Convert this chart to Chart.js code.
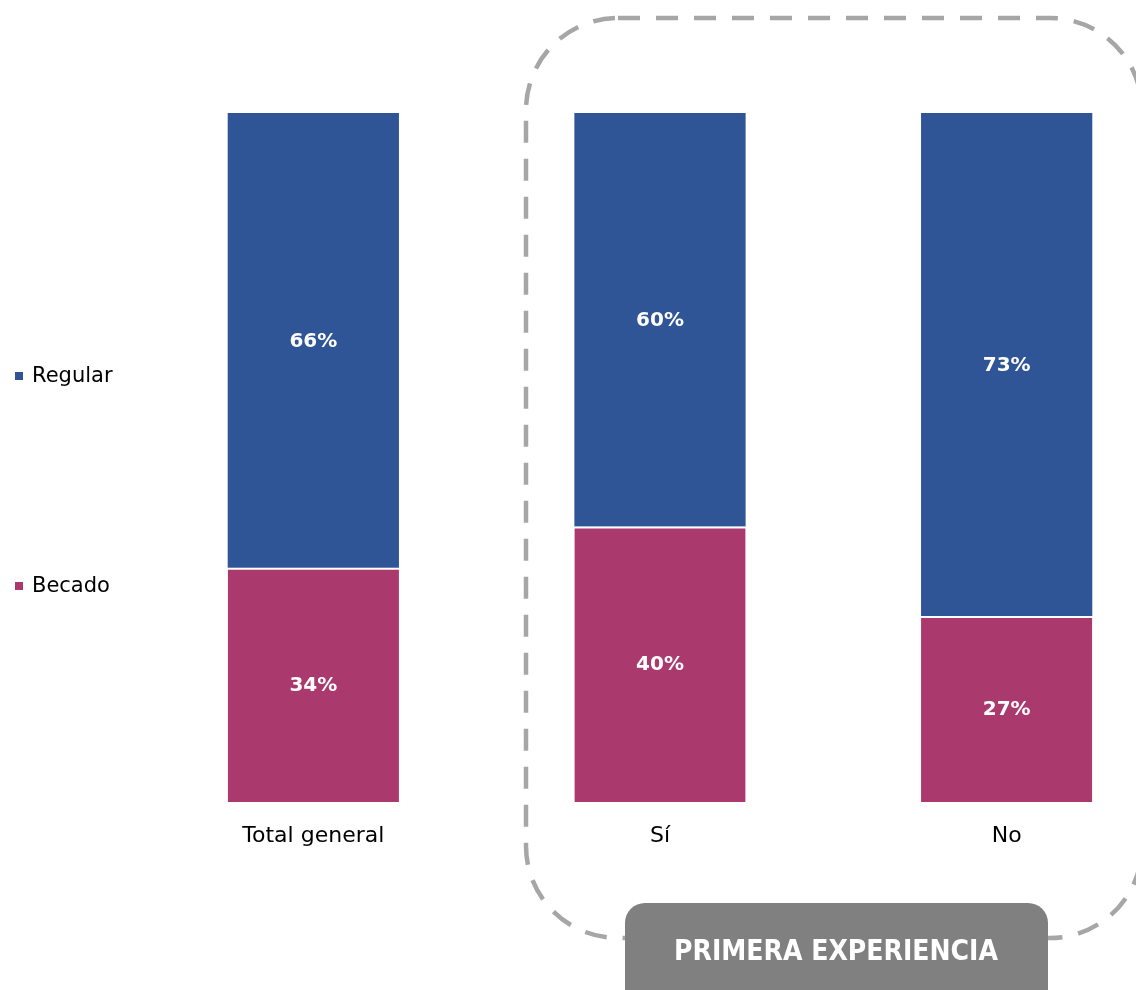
<!DOCTYPE html>
<html lang="es">
<head>
<meta charset="utf-8">
<title>Primera experiencia</title>
<script src="https://cdn.jsdelivr.net/npm/chart.js@4.4.1/dist/chart.umd.min.js"></script>
<style>
  html, body { margin: 0; padding: 0; background: #ffffff; overflow: hidden; }
  #wrap { width: 1180px; height: 990px; }
</style>
</head>
<body>
<div id="wrap"><canvas id="chart" width="1180" height="990"></canvas></div>
<script>
// ─── Data ─────────────────────────────────────────────────────────────────

const CATEGORIES = ['Total general', 'Sí', 'No'];
const BECADO     = [34, 40, 27];
const REGULAR    = [66, 60, 73];
const GROUP_LABEL = 'PRIMERA EXPERIENCIA';

const COLORS = {
  regular: '#2f5597',
  becado:  '#aa396e',
  dash:    '#a6a6a6',
  badge:   '#808080',
};

Chart.defaults.font.family = "'DejaVu Sans', sans-serif";
Chart.defaults.color = '#000000';

// ─── Plugins ──────────────────────────────────────────────────────────────

// white percentage labels centred in each segment
const segmentLabels = {
  id: 'segmentLabels',
  afterDatasetsDraw(chart) {
    const { ctx } = chart;
    ctx.save();
    ctx.fillStyle = '#ffffff';
    ctx.font = "bold 20px 'DejaVu Sans', sans-serif";
    ctx.textAlign = 'center';
    ctx.textBaseline = 'middle';
    chart.data.datasets.forEach((ds, i) => {
      chart.getDatasetMeta(i).data.forEach((bar, j) => {
        const y = (bar.y + bar.base) / 2 + 1;
        ctx.fillText(`${ds.data[j]}%`, bar.x, y);
      });
    });
    ctx.restore();
  },
};

// legend on the left, one entry beside each band
const sideLegend = {
  id: 'sideLegend',
  afterDraw(chart) {
    const { ctx } = chart;
    const items = [
      { ds: chart.data.datasets[1], y: 377 },
      { ds: chart.data.datasets[0], y: 587 },
    ];
    ctx.save();
    ctx.font = "21px 'DejaVu Sans', sans-serif";
    ctx.textBaseline = 'middle';
    ctx.textAlign = 'left';
    items.forEach(it => {
      ctx.fillStyle = it.ds.backgroundColor;
      ctx.fillRect(15, it.y - 5, 8, 8);
      ctx.fillStyle = '#000000';
      ctx.fillText(it.ds.label, 32, it.y);
    });
    ctx.restore();
  },
};

// dashed frame round the "Sí"/"No" pair, with its badge
const groupFrame = {
  id: 'groupFrame',
  afterDraw(chart) {
    const { ctx } = chart;
    ctx.save();
    ctx.strokeStyle = COLORS.dash;
    ctx.lineWidth = 4.5;
    ctx.setLineDash([22, 16]);
    ctx.beginPath();
    ctx.roundRect(526, 18, 616, 920, 92);
    ctx.stroke();
    ctx.setLineDash([]);

    ctx.fillStyle = COLORS.badge;
    ctx.beginPath();
    ctx.roundRect(625, 903, 423, 110, 20);
    ctx.fill();

    ctx.fillStyle = '#ffffff';
    ctx.font = "bold 28px 'DejaVu Sans Condensed', 'DejaVu Sans', sans-serif";
    ctx.textAlign = 'center';
    ctx.textBaseline = 'alphabetic';
    ctx.fillText(GROUP_LABEL, 836, 960);
    ctx.restore();
  },
};

// ─── Chart ────────────────────────────────────────────────────────────────

new Chart(document.getElementById('chart'), {
  type: 'bar',
  data: {
    labels: CATEGORIES,
    datasets: [
      {
        label: 'Becado',
        data: BECADO,
        backgroundColor: COLORS.becado,
        borderColor: '#ffffff',
        borderWidth: { top: 2, left: 0, right: 0, bottom: 0 },
        borderSkipped: false,
      },
      {
        label: 'Regular',
        data: REGULAR,
        backgroundColor: COLORS.regular,
        borderWidth: 0,
      },
    ],
  },
  options: {
    responsive: false,
    animation: false,
    layout: { padding: { left: 140, right: 0, top: 113, bottom: 118 } },
    datasets: { bar: { categoryPercentage: 1, barPercentage: 0.494 } },
    plugins: {
      legend: { display: false },
      tooltip: { enabled: false },
    },
    scales: {
      x: {
        stacked: true,
        grid: { display: false, drawTicks: false },
        border: { display: false },
        ticks: { padding: 21, font: { size: 22 }, color: '#000000' },
        afterFit: s => { s.height = 70; },
      },
      y: {
        stacked: true,
        display: false,
        min: 0,
        max: 100,
      },
    },
  },
  plugins: [segmentLabels, sideLegend, groupFrame],
});
</script>
</body>
</html>
